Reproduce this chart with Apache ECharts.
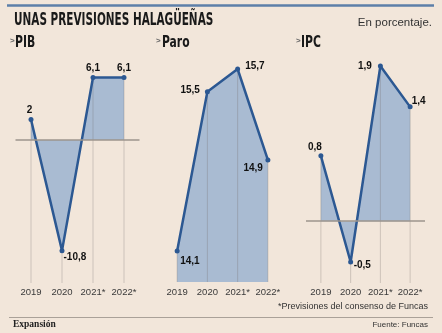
<!DOCTYPE html>
<html>
<head>
<meta charset="utf-8">
<script src="https://cdn.jsdelivr.net/npm/echarts@6/dist/echarts.min.js"></script>
<style>
html,body{margin:0;padding:0;background:#f2e6da;}
#c{width:442px;height:333px;}
</style>
</head>
<body>
<div id="c"></div>
<script>
// ---- data ----
const categories = ['2019', '2020', '2021*', '2022*'];
const pibValues = [2, -10.8, 6.1, 6.1];
const paroValues = [14.1, 15.5, 15.7, 14.9];
const ipcValues = [0.8, -0.5, 1.9, 1.4];
const panelTitles = ['PIB', 'Paro', 'IPC'];
const titleText = 'UNAS PREVISIONES HALAGÜEÑAS';
const unitText = 'En porcentaje.';
const noteText = '*Previsiones del consenso de Funcas';
const sourceText = 'Fuente: Funcas';
const brandText = 'Expansión';

// ---- styles ----
const COND = '"DejaVu Sans Condensed", "Liberation Sans", sans-serif';
const SANS = '"Liberation Sans", Arial, sans-serif';
const LINE = '#2c5892';
const FILL = '#a9bbd2';

const panels = [
  { values: pibValues, left: 15.5, width: 124, top: 60, height: 223, min: -13.96, max: 7.81, origin: 'auto', zero: true, margin: 4,
    labels: [
      { position: 'top', distance: 2, offset: [-1.5, 0] },
      { position: 'right', offset: [-6, 7] },
      { position: 'top', distance: 2 },
      { position: 'top', distance: 2 }
    ], titleX: 15, caretX: 10 },
  { values: paroValues, left: 162, width: 121, top: 60, height: 222, min: 13.827, max: 15.779, origin: 'start', zero: false, margin: 5,
    labels: [
      { position: 'right', offset: [-4.5, 10] },
      { position: 'left', offset: [0, -1] },
      { position: 'right', offset: [0, -3] },
      { position: 'left', offset: [2.5, 8] }
    ], titleX: 162, caretX: 156 },
  { values: ipcValues, left: 306, width: 119, top: 60, height: 223, min: -0.757, max: 1.974, origin: 'auto', zero: true, margin: 4,
    labels: [
      { position: 'top', distance: 1, offset: [-6, 0] },
      { position: 'right', offset: [-4.5, 3] },
      { position: 'left', offset: [-1, 0] },
      { position: 'right', offset: [-6, -6] }
    ], titleX: 301, caretX: 296 }
];

const fmt = v => String(v).replace('.', ',');

const grid = [], xAxis = [], yAxis = [], series = [];
panels.forEach((p, i) => {
  grid.push({ left: p.left, width: p.width, top: p.top, height: p.height });
  xAxis.push({
    type: 'category', gridIndex: i, data: categories, boundaryGap: true,
    axisLine: { show: false }, axisTick: { show: false }, splitLine: { show: false },
    axisLabel: { margin: p.margin, fontSize: 9.5, color: '#3a3a3a', fontFamily: SANS, interval: 0 }
  });
  yAxis.push({ type: 'value', gridIndex: i, min: p.min, max: p.max, show: false });
  series.push({
    type: 'line', xAxisIndex: i, yAxisIndex: i, data: p.values, z: 1,
    symbol: 'none', lineStyle: { width: 0 }, silent: true,
    areaStyle: { color: FILL, opacity: 1, origin: p.origin }
  });
  const cs = {
    type: 'custom', xAxisIndex: i, yAxisIndex: i, z: 2, silent: true,
    data: p.values.map((v, k) => [k, v]),
    renderItem: (params, api) => {
      const pt = api.coord([api.value(0), api.value(1)]);
      const c = params.coordSys;
      return { type: 'line', shape: { x1: pt[0], y1: pt[1], x2: pt[0], y2: c.y + c.height },
        style: { stroke: 'rgba(110,105,100,0.28)', lineWidth: 1 } };
    }
  };
  if (p.zero) {
    cs.markLine = { silent: true, symbol: 'none', label: { show: false },
      lineStyle: { color: '#9d958d', width: 1.5, type: 'solid' }, data: [{ yAxis: 0 }] };
  }
  series.push(cs);
  series.push({
    type: 'line', xAxisIndex: i, yAxisIndex: i, z: 3,
    data: p.values.map((v, k) => ({ value: v, label: p.labels[k] })),
    symbol: 'circle', symbolSize: 5, showAllSymbol: true,
    lineStyle: { color: LINE, width: 2.5 }, itemStyle: { color: LINE },
    label: { show: true, formatter: d => fmt(d.value), fontFamily: SANS, fontWeight: 'bold', fontSize: 10, color: '#111' }
  });
});

const graphic = [
  { type: 'line', shape: { x1: 7, y1: 5.5, x2: 434, y2: 5.5 }, style: { stroke: '#5d7fa9', lineWidth: 2.5 } },
  { type: 'text', x: 14, y: 20.5, scaleX: 0.685, style: { text: titleText, font: 'bold 17px ' + COND, fill: '#1a1a1a', verticalAlign: 'middle' } },
  { type: 'text', x: 432, y: 23, style: { text: unitText, font: '11.5px ' + SANS, fill: '#333', align: 'right', verticalAlign: 'middle' } },
  { type: 'line', shape: { x1: 9, y1: 317.5, x2: 433, y2: 317.5 }, style: { stroke: '#aaa198', lineWidth: 1 } },
  { type: 'text', x: 428, y: 307, style: { text: noteText, font: '9px ' + SANS, fill: '#333', align: 'right', verticalAlign: 'middle' } },
  { type: 'text', x: 428, y: 324.5, style: { text: sourceText, font: '8px ' + SANS, fill: '#333', align: 'right', verticalAlign: 'middle' } },
  { type: 'text', x: 13, y: 324.5, style: { text: brandText, font: 'bold 9.5px "Liberation Serif", serif', fill: '#222', verticalAlign: 'middle' } }
];
panels.forEach((p, i) => {
  graphic.push({ type: 'text', x: p.caretX, y: 41, style: { text: '>', font: 'bold 8px ' + SANS, fill: '#666', verticalAlign: 'middle' } });
  graphic.push({ type: 'text', x: p.titleX, y: 43, scaleX: 0.8, style: { text: panelTitles[i], font: 'bold 15px ' + COND, fill: '#1a1a1a', verticalAlign: 'middle' } });
});

const chart = echarts.init(document.getElementById('c'), null, { renderer: 'canvas' });
chart.setOption({
  backgroundColor: '#f2e6da',
  animation: false,
  grid, xAxis, yAxis, series, graphic
});
</script>
</body>
</html>
